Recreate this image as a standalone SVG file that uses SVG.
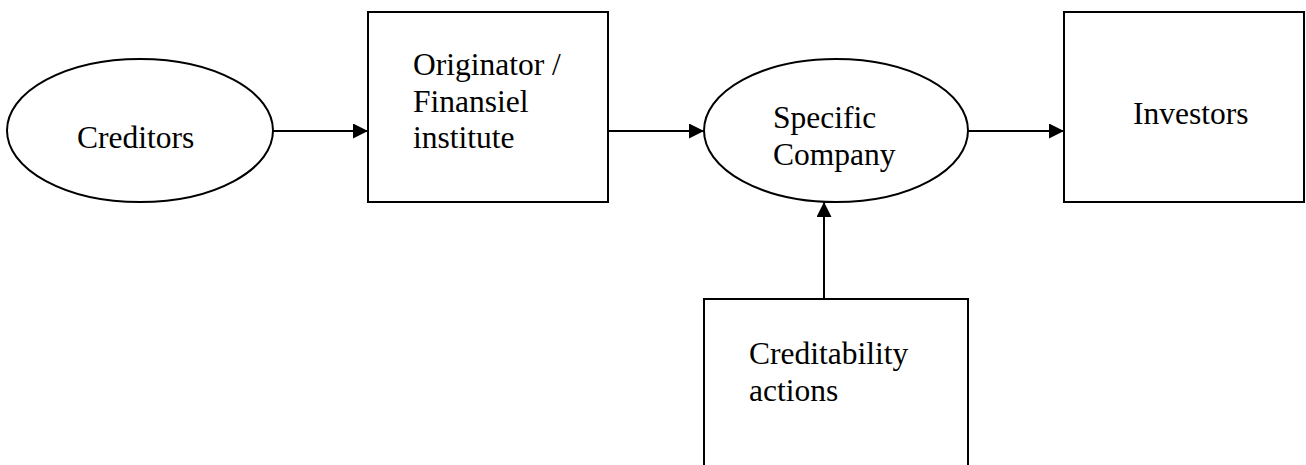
<svg xmlns="http://www.w3.org/2000/svg" width="1306" height="465" viewBox="0 0 1306 465">
<style>
.s{fill:#fff;stroke:#000;stroke-width:2}
.t{font-family:"Liberation Serif","Times New Roman",serif;font-size:31.5px;fill:#000}
.c{stroke:#000;stroke-width:2;fill:none}
</style>
<defs>
<marker id="ah" markerWidth="15" markerHeight="15" refX="15" refY="7.5" orient="auto" markerUnits="userSpaceOnUse">
<path d="M0,0 L15,7.5 L0,15 Z" fill="#000"/>
</marker>
</defs>
<rect width="1306" height="465" fill="#fff"/>
<g id="creditors">
<ellipse class="s" cx="140" cy="130.5" rx="133" ry="71.5"/>
<text class="t" x="77" y="148">Creditors</text>
</g>
<g id="originator">
<rect class="s" x="368" y="12" width="240" height="190"/>
<text class="t" x="413" y="75">Originator /</text>
<text class="t" x="413" y="112">Finansiel</text>
<text class="t" x="413" y="148">institute</text>
</g>
<g id="specific">
<ellipse class="s" cx="836" cy="130.5" rx="132" ry="71.5"/>
<text class="t" x="773" y="128">Specific</text>
<text class="t" x="773" y="165">Company</text>
</g>
<g id="investors">
<rect class="s" x="1064" y="12" width="240" height="190"/>
<text class="t" x="1133" y="124">Investors</text>
</g>
<g id="creditability">
<path class="s" d="M704,466 L704,299 L968,299 L968,466"/>
<text class="t" x="749" y="364">Creditability</text>
<text class="t" x="749" y="401">actions</text>
</g>
<g id="connectors">
<line class="c" x1="273" y1="131" x2="368" y2="131" marker-end="url(#ah)"/>
<line class="c" x1="608" y1="131" x2="704" y2="131" marker-end="url(#ah)"/>
<line class="c" x1="968" y1="131" x2="1064" y2="131" marker-end="url(#ah)"/>
<line class="c" x1="824" y1="299" x2="824" y2="202" marker-end="url(#ah)"/>
</g>
</svg>
